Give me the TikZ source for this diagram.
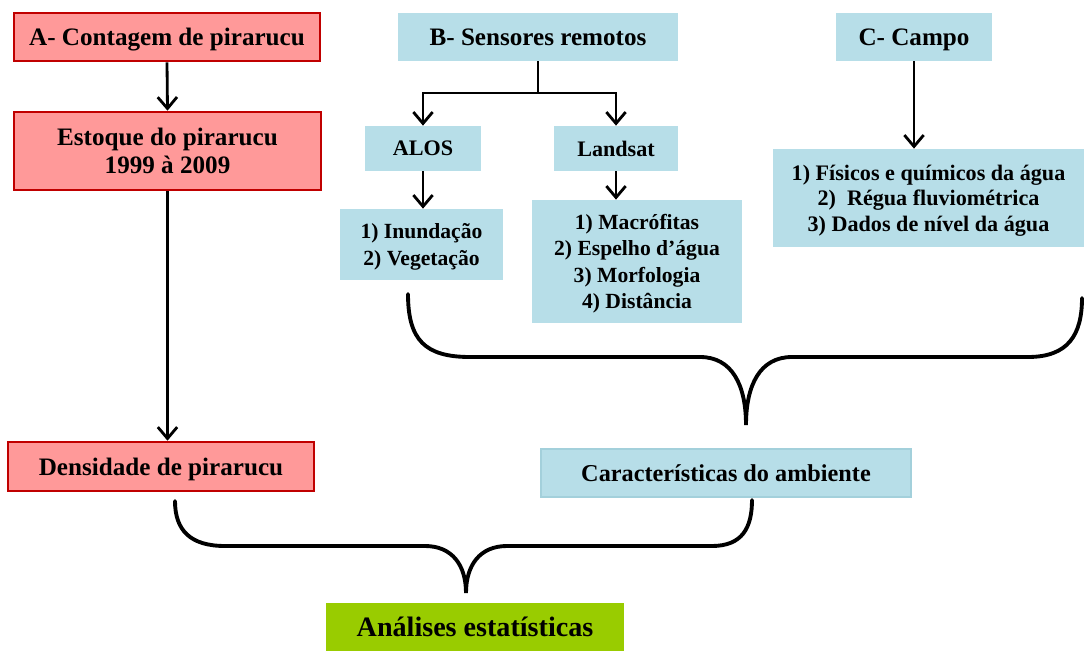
\documentclass[tikz,border=0pt]{standalone}
\usepackage{fontspec}
\setmainfont{Liberation Serif}
\usetikzlibrary{arrows.meta}
\definecolor{redfill}{HTML}{FF9999}
\definecolor{redline}{HTML}{C00000}
\definecolor{bluefill}{HTML}{B7DEE8}
\definecolor{blueline}{HTML}{A3D0DB}
\definecolor{greenfill}{HTML}{99CC00}
\tikzset{
  basebox/.style={inner sep=0pt, align=center, text depth=0pt},
  redbox/.style={basebox, draw=redline, line width=1.5pt, fill=redfill, font=\fontsize{14.3}{16}\selectfont\bfseries},
  bluebox/.style={basebox, fill=bluefill, font=\fontsize{14.3}{16}\selectfont\bfseries},
  subbox/.style={basebox, fill=bluefill, font=\fontsize{12.6}{14}\selectfont\bfseries},
  listbox/.style={basebox, fill=bluefill, font=\fontsize{12.3}{15}\selectfont\bfseries},
  camplist/.style={basebox, fill=bluefill, font=\fontsize{12.6}{14.6}\selectfont\bfseries},
  greenbox/.style={basebox, fill=greenfill, font=\fontsize{16}{18}\selectfont\bfseries},
  arr/.style={line width=1.6pt, -{Straight Barb[length=6.5pt,width=11pt,line width=1.6pt]}},
  bracestyle/.style={line width=2.2pt, line cap=round}
}
\begin{document}
\begin{tikzpicture}[x=0.02cm, y=-0.02cm]
\useasboundingbox (0,0) rectangle (1084,651);
% red column
\node[redbox, minimum width=6.12cm, minimum height=0.96cm] (A) at (167,37) {A- Contagem de pirarucu};
\node[redbox, minimum width=6.14cm, minimum height=1.56cm] (Est) at (167.5,151) {Estoque do pirarucu\\1999 à 2009};
\node[redbox, minimum width=6.12cm, minimum height=0.98cm] (Dens) at (161,466.5) {Densidade de pirarucu};
% B column
\node[bluebox, minimum width=5.6cm, minimum height=0.96cm] (B) at (538,37) {B- Sensores remotos};
\node[subbox, minimum width=2.32cm, minimum height=0.9cm] (ALOS) at (423,148.5) {ALOS};
\node[subbox, minimum width=2.48cm, minimum height=0.9cm] (Land) at (616,148.5) {Landsat};
\node[listbox, minimum width=3.26cm, minimum height=1.42cm] (Inund) at (421.5,244.5) {1) Inundação\\2) Vegetação};
\node[listbox, minimum width=4.2cm, minimum height=2.46cm] (LList) at (637,261.5) {1) Macrófitas\\2) Espelho d’água\\3) Morfologia\\4) Distância};
% C column
\node[bluebox, minimum width=3.12cm, minimum height=0.96cm] (C) at (914,37) {C- Campo};
\node[camplist, minimum width=6.22cm, minimum height=1.96cm] (CList) at (928.5,198) {1) Físicos e químicos da água\\2)\ \ Régua fluviométrica\\3) Dados de nível da água};
% results
\node[bluebox, draw=blueline, line width=1pt, font=\fontsize{13.8}{16}\selectfont\bfseries, minimum width=7.4cm, minimum height=0.96cm] (Car) at (726,473) {Características do ambiente};
\node[greenbox, minimum width=5.96cm, minimum height=0.96cm] (An) at (475,627) {Análises estatísticas};
% arrows
\draw[arr] (A.south) -- (Est.north);
\draw[arr] (Est.south) -- (Est.south |- Dens.north);
\coordinate (Bj) at (538,93);
\draw[line width=1.6pt] (B.south) -- (Bj);
\draw[arr] (Bj) -| (ALOS.north);
\draw[arr] (Bj) -| (Land.north);
\draw[arr] (ALOS.south) -- (ALOS.south |- Inund.north);
\draw[arr] (Land.south) -- (Land.south |- LList.north);
\draw[arr] (C.south) -- (C.south |- CList.north);
% top brace
\coordinate (t1) at (408,294);
\coordinate (ttip) at (746,425);
\coordinate (t2) at (1082,298);
\draw[bracestyle] (t1) .. controls (408,340) and (425,357) .. (470,357)
  -- (700,357) .. controls (732,357) and (746,385) .. (ttip)
  .. controls (746,385) and (760,357) .. (792,357)
  -- (1028,357) .. controls (1068,357) and (1082,335) .. (t2);
% bottom brace
\coordinate (b1) at (175,501);
\coordinate (btip) at (466,593);
\coordinate (b2) at (752,500);
\draw[bracestyle] (b1) .. controls (175,530) and (190,546) .. (225,546)
  -- (425,546) .. controls (452,546) and (466,565) .. (btip)
  .. controls (466,565) and (480,546) .. (507,546)
  -- (712,546) .. controls (742,546) and (752,528) .. (b2);
\end{tikzpicture}
\end{document}
